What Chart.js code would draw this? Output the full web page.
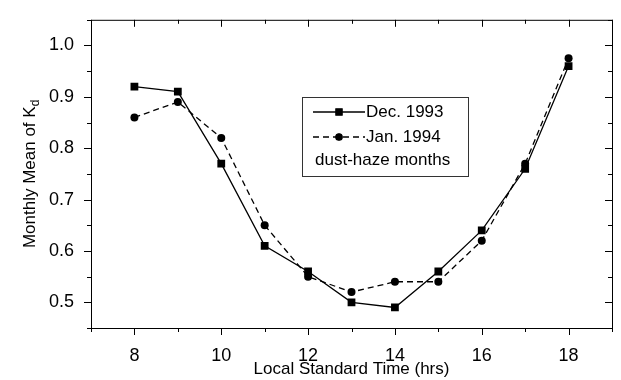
<!DOCTYPE html>
<html>
<head>
<meta charset="utf-8">
<script src="https://cdn.jsdelivr.net/npm/chart.js@4.4.1/dist/chart.umd.min.js"></script>
<style>
  html, body { margin: 0; padding: 0; background: #fff; }
  #wrap { width: 621px; height: 380px; }
</style>
</head>
<body>
<div id="wrap"><canvas id="chart"></canvas></div>
<script>
// local standard time (hrs)
const hours = [8, 9, 10, 11, 12, 13, 14, 15, 16, 17, 18];
// monthly mean of Kd
const dec1993 = [0.92, 0.91, 0.77, 0.61, 0.56, 0.50, 0.49, 0.56, 0.64, 0.76, 0.96];
const jan1994 = [0.86, 0.89, 0.82, 0.65, 0.55, 0.52, 0.54, 0.54, 0.62, 0.77, 0.975];
const xTickLabels = [8, 10, 12, 14, 16, 18];
const yTickLabels = [0.5, 0.6, 0.7, 0.8, 0.9, 1.0];
const legendLabels = ["Dec. 1993", "Jan. 1994"];
const legendNote = "dust-haze months";

const FONT = "'Liberation Sans', Arial, sans-serif";

const isMajorX = (v) => xTickLabels.some((t) => Math.abs(t - v) < 1e-6);
const isMajorY = (v) => yTickLabels.some((t) => Math.abs(t - v) < 1e-6);

// frame + ticks (left/bottom outward, top/right inward)
const framePlugin = {
  id: "frame",
  afterDraw(chart) {
    const { ctx, chartArea: a, scales } = chart;
    const x = scales.x, y = scales.y;
    ctx.save();
    ctx.strokeStyle = "#000";
    ctx.lineWidth = 1;
    ctx.strokeRect(a.left + 0.5, a.top + 0.5, a.right - a.left, a.bottom - a.top);
    ctx.beginPath();
    x.ticks.forEach((t) => {
      const px = Math.round(x.getPixelForValue(t.value)) + 0.5;
      const len = isMajorX(t.value) ? 7 : 4;
      ctx.moveTo(px, a.bottom);
      ctx.lineTo(px, a.bottom + len);
      ctx.moveTo(px, a.top);
      ctx.lineTo(px, a.top + len);
    });
    y.ticks.forEach((t) => {
      const py = Math.round(y.getPixelForValue(t.value)) + 0.5;
      const len = isMajorY(t.value) ? 7 : 4;
      ctx.moveTo(a.left, py);
      ctx.lineTo(a.left - len, py);
      ctx.moveTo(a.right, py);
      ctx.lineTo(a.right - len, py);
    });
    ctx.stroke();

    // y axis title with subscript
    ctx.translate(30, (a.top + a.bottom) / 2);
    ctx.rotate(-Math.PI / 2);
    ctx.fillStyle = "#000";
    ctx.textBaseline = "middle";
    const main = "Monthly Mean of K";
    ctx.font = "17px " + FONT;
    const w1 = ctx.measureText(main).width;
    ctx.font = "12px " + FONT;
    const w2 = ctx.measureText("d").width;
    const start = -(w1 + w2) / 2;
    ctx.font = "17px " + FONT;
    ctx.textAlign = "left";
    ctx.fillText(main, start, 0);
    ctx.font = "12px " + FONT;
    ctx.fillText("d", start + w1, 6);
    ctx.restore();
  },
};

// legend box inside the plot
const legendPlugin = {
  id: "boxLegend",
  afterDraw(chart) {
    const { ctx } = chart;
    const bx = 302, by = 97, bw = 166, bh = 79;
    ctx.save();
    ctx.strokeStyle = "#333";
    ctx.lineWidth = 1;
    ctx.strokeRect(bx + 0.5, by + 0.5, bw, bh);
    const rows = [112, 137];
    chart.data.datasets.forEach((ds, i) => {
      const cy = rows[i];
      ctx.strokeStyle = ds.borderColor;
      ctx.lineWidth = ds.borderWidth;
      ctx.setLineDash(ds.borderDash || []);
      ctx.beginPath();
      ctx.moveTo(313, cy);
      ctx.lineTo(365, cy);
      ctx.stroke();
      ctx.setLineDash([]);
      Chart.helpers.drawPoint(ctx, {
        pointStyle: ds.pointStyle,
        radius: ds.pointRadius * 0.8,
        borderWidth: 1,
      }, 339, cy);
      ctx.fillStyle = "#000";
      ctx.fill();
      ctx.font = "17px " + FONT;
      ctx.textAlign = "left";
      ctx.textBaseline = "middle";
      ctx.fillText(ds.label, 366, cy);
    });
    ctx.font = "17px " + FONT;
    ctx.textAlign = "left";
    ctx.textBaseline = "middle";
    ctx.fillStyle = "#000";
    ctx.fillText(legendNote, 315, 160);
    ctx.restore();
  },
};

new Chart(document.getElementById("chart"), {
  type: "line",
  data: {
    datasets: [
      {
        label: legendLabels[0],
        data: hours.map((h, i) => ({ x: h, y: dec1993[i] })),
        borderColor: "#000",
        backgroundColor: "#000",
        borderWidth: 1.3,
        pointStyle: "rect",
        pointRadius: 5.5,
        pointBorderWidth: 0,
        tension: 0,
      },
      {
        label: legendLabels[1],
        data: hours.map((h, i) => ({ x: h, y: jan1994[i] })),
        borderColor: "#000",
        backgroundColor: "#000",
        borderWidth: 1.3,
        borderDash: [6, 4],
        pointStyle: "circle",
        pointRadius: 4,
        pointBorderWidth: 0,
        tension: 0,
      },
    ],
  },
  options: {
    responsive: true,
    maintainAspectRatio: false,
    animation: false,
    events: [],
    layout: { padding: { top: 9, right: 7, left: 0, bottom: 0 } },
    plugins: {
      legend: { display: false },
      tooltip: { enabled: false },
    },
    scales: {
      x: {
        type: "linear",
        min: 7,
        max: 19,
        afterFit: (s) => { s.height = 52; },
        grid: { display: false },
        border: { display: false },
        ticks: {
          stepSize: 1,
          autoSkip: false,
          maxRotation: 0,
          padding: 9,
          color: "#000",
          font: { family: FONT, size: 18 },
          callback: (v) => (isMajorX(v) ? String(v) : ""),
        },
        title: {
          display: true,
          text: "Local Standard Time (hrs)",
          color: "#000",
          font: { family: FONT, size: 17 },
          padding: { top: 0, bottom: 0 },
        },
      },
      y: {
        type: "linear",
        min: 0.45,
        max: 1.05,
        afterFit: (s) => { s.width = 91; },
        grid: { display: false },
        border: { display: false },
        ticks: {
          stepSize: 0.05,
          autoSkip: false,
          padding: 9,
          color: "#000",
          font: { family: FONT, size: 18 },
          callback: (v) => (isMajorY(v) ? v.toFixed(1) : ""),
        },
      },
    },
  },
  plugins: [framePlugin, legendPlugin],
});
</script>
</body>
</html>
